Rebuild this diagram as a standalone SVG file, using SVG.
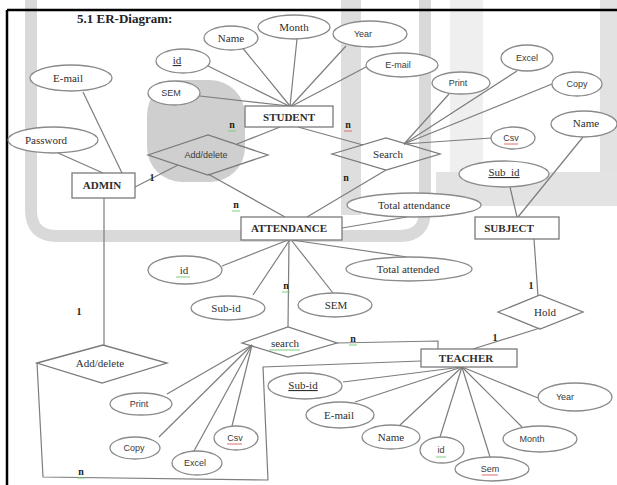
<svg xmlns="http://www.w3.org/2000/svg" width="617" height="485" viewBox="0 0 617 485">
<style>
.e{fill:#fff;stroke:#8a8a8a;stroke-width:1.3}
.r{fill:#fff;stroke:#7a7a7a;stroke-width:1.3}
.d{fill:none;stroke:#7a7a7a;stroke-width:1.3}
.c line,.c polyline{stroke:#7d7d7d;stroke-width:1.2;fill:none}
.t{font-family:"Liberation Serif",serif;font-size:11px;fill:#2e2e2e;text-anchor:middle}
.s{font-family:"Liberation Sans",Arial,sans-serif;font-size:9px;fill:#3a3a3a;text-anchor:middle}
.b{font-weight:bold}
.l{font-family:"Liberation Serif",serif;font-size:10px;font-weight:bold;fill:#222;text-anchor:middle}
.g{stroke:#7ccf7c;stroke-width:1}
.rd{stroke:#e06a6a;stroke-width:1}
</style>
<rect width="617" height="485" fill="#fff"/>
<g id="watermark">
<path d="M31,0 V210 Q31,236 57,236 H400 Q425,236 425,210 V0" fill="none" stroke="#d9d9d9" stroke-width="12"/>
<rect x="341" y="0" width="20" height="215" fill="#dedede"/>
<rect x="450" y="0" width="33" height="175" fill="#efefef"/>
<rect x="600" y="0" width="17" height="180" fill="#e2e2e2"/>
<rect x="436" y="172" width="181" height="34" fill="#e3e3e3"/>
<rect x="147" y="80" width="98" height="102" rx="35" fill="#cfcfcf"/>
</g>
<g id="frame">
<line x1="7" y1="10" x2="617" y2="10" stroke="#000" stroke-width="2.5"/>
<line x1="7" y1="10" x2="7" y2="485" stroke="#000" stroke-width="2.5"/>
</g>
<text x="77" y="23" font-family="Liberation Serif,serif" font-size="13" font-weight="bold" fill="#222">5.1 ER-Diagram:</text>
<g id="connectors" class="c">
<line x1="241" y1="46" x2="290" y2="106"/>
<line x1="297" y1="39" x2="290" y2="106"/>
<line x1="346" y1="46" x2="291" y2="106"/>
<line x1="366" y1="67" x2="292" y2="106"/>
<line x1="208" y1="66" x2="289" y2="106"/>
<line x1="200" y1="96" x2="289" y2="106"/>
<line x1="280" y1="127" x2="237" y2="144"/>
<line x1="298" y1="127" x2="363" y2="145"/>
<line x1="449" y1="94" x2="404" y2="144"/>
<line x1="517" y1="71" x2="404" y2="144"/>
<line x1="552" y1="84" x2="404" y2="144"/>
<line x1="491" y1="138" x2="404" y2="144"/>
<line x1="510" y1="187" x2="517" y2="217"/>
<line x1="583" y1="137" x2="518" y2="217"/>
<line x1="534" y1="239" x2="538" y2="296"/>
<line x1="540" y1="328" x2="473" y2="349"/>
<line x1="83" y1="92" x2="122" y2="173"/>
<line x1="58" y1="153" x2="103" y2="173"/>
<line x1="135" y1="187" x2="178" y2="165"/>
<line x1="104" y1="198" x2="104" y2="345"/>
<line x1="208" y1="174" x2="285" y2="217"/>
<line x1="386" y1="170" x2="307" y2="217"/>
<line x1="342" y1="228" x2="407" y2="217"/>
<line x1="292" y1="240" x2="407" y2="257"/>
<line x1="222" y1="266" x2="288" y2="240"/>
<line x1="253" y1="295" x2="289" y2="241"/>
<line x1="333" y1="293" x2="292" y2="241"/>
<line x1="289" y1="240" x2="288" y2="327"/>
<line x1="167" y1="394" x2="252" y2="345"/>
<line x1="159" y1="437" x2="252" y2="345"/>
<line x1="194" y1="451" x2="252" y2="345"/>
<line x1="232" y1="426" x2="252" y2="345"/>
<polyline points="337,343 438,341 438,349"/>
<polyline points="421,361 263,367 268,480 43,477 37,363"/>
<line x1="343" y1="382" x2="462" y2="367"/>
<line x1="355" y1="402" x2="462" y2="367"/>
<line x1="399" y1="426" x2="462" y2="367"/>
<line x1="440" y1="437" x2="462" y2="367"/>
<line x1="490" y1="457" x2="462" y2="367"/>
<line x1="522" y1="427" x2="462" y2="367"/>
<line x1="538" y1="398" x2="462" y2="367"/>
</g>
<g id="labels">
<text class="l" x="232" y="128">n</text><line class="g" x1="228" y1="131" x2="236" y2="131"/>
<text class="l" x="348" y="128">n</text><line class="rd" x1="344" y1="131" x2="352" y2="131"/>
<text class="l" x="152" y="181">1</text>
<text class="l" x="236" y="208">n</text><line class="g" x1="232" y1="211" x2="240" y2="211"/>
<text class="l" x="346" y="181">n</text>
<text class="l" x="286" y="289">n</text><line class="g" x1="282" y1="292" x2="290" y2="292"/>
<text class="l" x="79" y="315">1</text>
<text class="l" x="531" y="289">1</text>
<text class="l" x="495" y="341">1</text>
<text class="l" x="353" y="342">n</text><line class="g" x1="349" y1="345" x2="357" y2="345"/>
<text class="l" x="81" y="475">n</text><line class="g" x1="77" y1="478" x2="85" y2="478"/>
</g>
<g id="student"><rect class="r" x="245" y="106" width="88" height="21"/><text class="t b" x="289" y="121">STUDENT</text></g>
<g id="s-name"><ellipse class="e" cx="231" cy="38" rx="27" ry="12"/><text class="t" x="231" y="42">Name</text></g>
<g id="s-month"><ellipse class="e" cx="294" cy="27" rx="36" ry="12"/><text class="t" x="294" y="31">Month</text></g>
<g id="s-year"><ellipse class="e" cx="370" cy="34" rx="37" ry="13"/><text class="s" x="363" y="37">Year</text></g>
<g id="s-email"><ellipse class="e" cx="402" cy="65" rx="36" ry="12"/><text class="s" x="398" y="68">E-mail</text></g>
<g id="s-id"><ellipse class="e" cx="183" cy="61" rx="27" ry="12"/><text class="t" x="177" y="64" text-decoration="underline">id</text></g>
<g id="s-sem"><ellipse class="e" cx="174" cy="93" rx="26" ry="12"/><text class="s" x="171" y="96">SEM</text></g>
<g id="add-delete-1"><polygon class="d" points="148,155 208,135 268,155 208,175"/><text class="s" x="206" y="158">Add/delete</text></g>
<g id="search-1"><polygon class="d" points="332,154 386,138 440,154 386,170"/><text class="t" x="388" y="158">Search</text></g>
<g id="q-print"><ellipse class="e" cx="461" cy="83" rx="29" ry="11"/><text class="s" x="458" y="86">Print</text></g>
<g id="q-excel"><ellipse class="e" cx="527" cy="58" rx="26" ry="13"/><text class="s" x="527" y="61">Excel</text></g>
<g id="q-copy"><ellipse class="e" cx="577" cy="84" rx="25" ry="12"/><text class="s" x="577" y="87">Copy</text></g>
<g id="q-csv"><ellipse class="e" cx="513" cy="138" rx="22" ry="11"/><text class="s" x="511" y="141">Csv</text><line class="rd" x1="504" y1="144" x2="518" y2="144"/></g>
<g id="admin"><rect class="r" x="72" y="173" width="63" height="25"/><text class="t b" x="102" y="189">ADMIN</text></g>
<g id="a-email"><ellipse class="e" cx="71" cy="78" rx="41" ry="13"/><text class="t" x="68" y="82">E-mail</text></g>
<g id="a-password"><ellipse class="e" cx="53" cy="140" rx="45" ry="13"/><text class="t" x="46" y="144">Password</text></g>
<g id="subject"><rect class="r" x="475" y="217" width="84" height="22"/><text class="t b" x="509" y="232">SUBJECT</text></g>
<g id="sub-name"><ellipse class="e" cx="584" cy="124" rx="33" ry="13"/><text class="t" x="586" y="127">Name</text></g>
<g id="sub-subid"><ellipse class="e" cx="504" cy="174" rx="45" ry="13"/><text class="t" x="504" y="176" text-decoration="underline">Sub_id</text></g>
<g id="hold"><polygon class="d" points="498,312 540,295 583,312 540,329"/><text class="t" x="545" y="316">Hold</text></g>
<g id="attendance"><rect class="r" x="241" y="217" width="101" height="23"/><text class="t b" x="289" y="232">ATTENDANCE</text></g>
<g id="at-total"><ellipse class="e" cx="414" cy="205" rx="67" ry="12"/><text class="t" x="414" y="209">Total attendance</text></g>
<g id="at-attended"><ellipse class="e" cx="409" cy="269" rx="63" ry="12"/><text class="t" x="408" y="273">Total attended</text></g>
<g id="at-id"><ellipse class="e" cx="185" cy="270" rx="37" ry="14"/><text class="t" x="184" y="274">id</text><line class="g" x1="176" y1="277" x2="190" y2="277"/></g>
<g id="at-subid"><ellipse class="e" cx="228" cy="308" rx="37" ry="12"/><text class="t" x="226" y="312">Sub-id</text></g>
<g id="at-sem"><ellipse class="e" cx="335" cy="305" rx="37" ry="12"/><text class="t" x="336" y="309">SEM</text></g>
<g id="search-2"><polygon class="d" points="242,343 288,327 337,343 288,357"/><text class="t" x="285" y="347">search</text><line class="g" x1="269" y1="350" x2="300" y2="350"/></g>
<g id="add-delete-2"><polygon class="d" points="37,363 103,345 167,363 102,383"/><text class="t" x="100" y="367">Add/delete</text></g>
<g id="r-print"><ellipse class="e" cx="141" cy="404" rx="31" ry="11"/><text class="s" x="139" y="407">Print</text></g>
<g id="r-copy"><ellipse class="e" cx="135" cy="448" rx="25" ry="11"/><text class="s" x="134" y="451">Copy</text></g>
<g id="r-excel"><ellipse class="e" cx="197" cy="463" rx="25" ry="12"/><text class="s" x="195" y="466">Excel</text></g>
<g id="r-csv"><ellipse class="e" cx="236" cy="438" rx="22" ry="12"/><text class="s" x="235" y="441">Csv</text><line class="rd" x1="227" y1="444" x2="242" y2="444"/></g>
<g id="teacher"><rect class="r" x="421" y="349" width="96" height="18"/><text class="t b" x="466" y="362">TEACHER</text></g>
<g id="t-subid"><ellipse class="e" cx="305" cy="386" rx="37" ry="13"/><text class="t" x="303" y="389" text-decoration="underline">Sub-id</text></g>
<g id="t-email"><ellipse class="e" cx="340" cy="415" rx="34" ry="13"/><text class="t" x="339" y="419">E-mail</text></g>
<g id="t-name"><ellipse class="e" cx="391" cy="437" rx="29" ry="12"/><text class="t" x="391" y="441">Name</text></g>
<g id="t-id"><ellipse class="e" cx="442" cy="450" rx="22" ry="13"/><text class="s" x="441" y="453">id</text><line class="g" x1="436" y1="457" x2="446" y2="457"/></g>
<g id="t-sem"><ellipse class="e" cx="492" cy="469" rx="37" ry="12"/><text class="s" x="490" y="472">Sem</text><line class="rd" x1="482" y1="475" x2="498" y2="475"/></g>
<g id="t-month"><ellipse class="e" cx="540" cy="439" rx="37" ry="13"/><text class="s" x="532" y="442">Month</text></g>
<g id="t-year"><ellipse class="e" cx="575" cy="397" rx="37" ry="14"/><text class="s" x="565" y="400">Year</text></g>
</svg>
